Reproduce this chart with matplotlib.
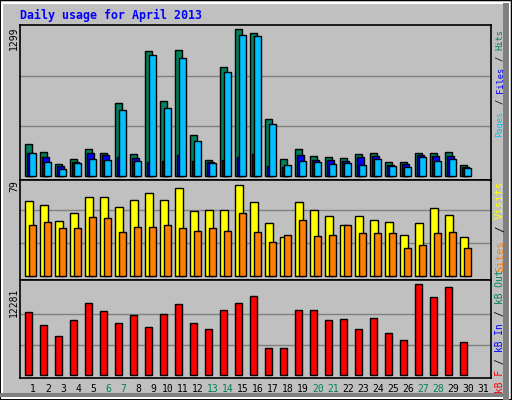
import matplotlib
matplotlib.use("Agg")
import matplotlib.pyplot as plt
from matplotlib.patches import Rectangle
import numpy as np

days = list(range(1, 32))
hits_px  = [32,24,12,17,27,23,73,22,125,75,126,41,16,109,147,143,57,17,27,20,19,18,22,23,14,14,23,23,24,11]
files_px = [23,19,10,14,23,21,19,18,14,15,21,15,14,16,19,22,10,9,21,16,16,15,19,20,11,12,21,20,20,9]
pages_px = [23,14,7,13,17,16,66,15,121,68,118,35,13,104,141,140,52,11,15,14,12,13,11,17,10,9,19,15,17,8]
hits  = [round(v/150*1299) for v in hits_px]
files = [round(v/150*1299) for v in files_px]
pages = [round(v/150*1299) for v in pages_px]
visits_px = [75,72,55,63,79,79,69,76,83,76,88,65,67,66,92,74,53,39,74,67,60,51,60,56,54,41,53,68,61,39]
sites_px  = [51,54,47,48,59,58,44,49,49,52,48,45,47,45,63,44,34,41,56,40,41,51,42,42,42,28,31,42,44,27]
visits = [round(v/99*79) for v in visits_px]
sites  = [round(v/99*79) for v in sites_px]
kbf_px = [63,50,39,55,72,64,52,60,48,61,71,52,46,65,72,79,27,27,65,65,55,56,46,57,42,35,91,78,88,33]
kbytes = [round(v/91*12281) for v in kbf_px]
weekend = {6,7,13,14,20,21,27,28}

W, H = 512, 400
fig = plt.figure(figsize=(W/100, H/100), dpi=100)
fig.patch.set_facecolor("#c0c0c0")
PX = 1/15.0

def ax_px(x0, y0, x1, y1):
    return fig.add_axes([x0/W, 1-y1/H, (x1-x0)/W, (y1-y0)/H])

fig.patches.append(Rectangle((0,0),1,1,transform=fig.transFigure,fill=False,ec="black",lw=1.5))
fig.patches.append(Rectangle((2/W,2/H),1-5/W,1-5/H,transform=fig.transFigure,fill=False,ec="white",lw=1.5))
fig.patches.append(Rectangle((503/W,0),6/W,1-3/H,transform=fig.transFigure,fc="#808080",ec="none"))
fig.patches.append(Rectangle((0,3/H),1-3/W,4/H,transform=fig.transFigure,fc="#808080",ec="none"))

xl = (1 + (20-33)/15, 1 + (491-33)/15)
x = np.array(days[:30])

def style(ax, ymax):
    ax.set_facecolor("#c0c0c0")
    ax.set_xlim(*xl)
    ax.set_xticks([]); ax.set_yticks([])
    for s in ax.spines.values():
        s.set_color("black"); s.set_linewidth(1.2)
    for g in (1/3, 2/3):
        ax.axhline(ymax*g, color="#808080", lw=1, zorder=0)

ec = dict(edgecolor="black", linewidth=1)
ax1 = ax_px(20, 25, 491, 180)
ymax1 = 1299
ax1.set_ylim(-4/150*ymax1, 151/150*ymax1)
style(ax1, ymax1)
ax1.bar(x-7.7*PX, hits, width=7*PX, align="edge", color="#00805c", **ec, zorder=2)
ax1.bar(x-5.7*PX, files, width=7*PX, align="edge", color="#0000ff", **ec, zorder=3)
ax1.bar(x-3.7*PX, pages, width=7*PX, align="edge", color="#00c0ff", **ec, zorder=4)

ax2 = ax_px(20, 180, 491, 280)
ymax2 = 79
ax2.set_ylim(-4/99*ymax2, 96/99*ymax2)
style(ax2, ymax2)
ax2.bar(x-8*PX, visits, width=8.4*PX, align="edge", color="#ffff00", **ec, zorder=2)
ax2.bar(x-4*PX, sites, width=7.4*PX, align="edge", color="#ff8000", **ec, zorder=3)

ax3 = ax_px(20, 280, 491, 378)
ymax3 = 12281
ax3.set_ylim(-3/91*ymax3, 95/91*ymax3)
style(ax3, ymax3)
ax3.bar(x-8*PX, kbytes, width=7.4*PX, align="edge", color="#ff0000", **ec, zorder=2)

mono = "DejaVu Sans Mono"
def ftext(px, py, s, **kw):
    fig.text(px/W, 1-py/H, s, **kw)

ftext(20, 15, "Daily usage for April 2013", color="#0000ff", family=mono,
      weight="bold", fontsize=8.4, va="center", ha="left")

for d in days:
    ftext(33+15*(d-1), 389, str(d), color="#00805c" if d in weekend else "black",
          family=mono, fontsize=7, ha="center", va="center")

ftext(14, 38, "1299", rotation=90, family=mono, fontsize=7, ha="center", va="center")
ftext(14, 186, "79", rotation=90, family=mono, fontsize=7, ha="center", va="center")
ftext(14, 302, "12281", rotation=90, family=mono, fontsize=7, ha="center", va="center")

def vlabel(px, py, parts, pitch):
    fs = pitch / 0.602 * 72 / 100 * 0.97
    i = 0
    for s, c in parts:
        lead = len(s) - len(s.lstrip())
        core = s.strip()
        if core:
            ftext(px, py - pitch*(i+lead), core, color=c, rotation=90,
                  rotation_mode="anchor", family=mono, fontsize=fs,
                  ha="left", va="center")
        i += len(s)

vlabel(500, 137, [("Pages", "#00c0ff"), (" / ", "black"), ("Files", "#0000ff"),
                  (" / ", "black"), ("Hits", "#00805c")], 5.45)
vlabel(500, 272, [("Sites", "#ff8000"), (" / ", "black"), ("Visits", "#ffff00")], 6.6)
vlabel(500, 393, [("kB F", "#ff0000"), (" / ", "black"), ("kB In", "#0000ff"),
                  (" / ", "black"), ("kB Out", "#00805c")], 5.9)

fig.savefig("out.png", dpi=100, facecolor=fig.get_facecolor())
